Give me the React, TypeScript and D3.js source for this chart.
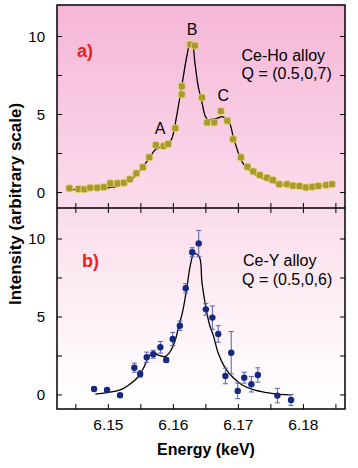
import React from "react";
import * as d3 from "d3";

// ---------- data ----------
// Panel a) Ce-Ho alloy, Q = (0.5,0,7)
const energyA = [
  6.144, 6.1454, 6.1463, 6.1472, 6.1483, 6.1493, 6.1503, 6.1514, 6.1524, 6.1533,
  6.1543, 6.1553, 6.1563, 6.1573, 6.1585, 6.1592, 6.1603, 6.1613, 6.1613, 6.1626,
  6.1633, 6.1644, 6.1652, 6.1663, 6.1673, 6.1683, 6.1692, 6.1704, 6.1714, 6.1723,
  6.1733, 6.1744, 6.1753, 6.1763, 6.1775, 6.1784, 6.1794, 6.1804, 6.1814, 6.1823,
  6.1835, 6.1844,
];
const intensityA = [
  0.27, 0.22, 0.21, 0.31, 0.31, 0.35, 0.59, 0.59, 0.63, 0.85,
  1.23, 1.62, 2.26, 3.04, 2.98, 3.11, 4.12, 6.29, 6.81, 9.49,
  9.42, 6.09, 4.49, 4.49, 5.22, 4.6, 3.41, 2.26, 1.65, 1.35,
  1.12, 0.95, 0.8, 0.53, 0.53, 0.44, 0.42, 0.33, 0.37, 0.42,
  0.48, 0.53,
];
const fitEnergyA = [
  6.144, 6.1462, 6.1492, 6.1513, 6.1528, 6.1541, 6.1551, 6.1562, 6.1572, 6.1582,
  6.1592, 6.1598, 6.1605, 6.1613, 6.1621, 6.1626, 6.1629, 6.1633, 6.1638, 6.1644,
  6.1649, 6.1653, 6.1661, 6.1669, 6.1674, 6.1685, 6.1692, 6.1700, 6.1707, 6.1715,
  6.1728, 6.1740, 6.1757, 6.1777, 6.1808, 6.1844,
];
const fitIntensityA = [
  0.19, 0.21, 0.29, 0.4, 0.62, 1.05, 1.55, 2.14, 2.74, 2.95,
  3.13, 3.5, 4.9, 6.85, 8.8, 9.62, 9.6, 8.37, 6.85, 5.77,
  4.9, 4.69, 4.7, 4.78, 4.86, 4.58, 3.6, 2.53, 1.88, 1.5,
  1.1, 0.86, 0.58, 0.47, 0.42, 0.47,
];

// Panel b) Ce-Y alloy, Q = (0.5,0,6)
const energyB = [
  6.1478, 6.1498, 6.1518, 6.154, 6.1549, 6.1559, 6.1569, 6.158, 6.1589, 6.1599,
  6.161, 6.1619, 6.1629, 6.1639, 6.165, 6.166, 6.1669, 6.168, 6.1689, 6.1699,
  6.1709, 6.172, 6.173, 6.176, 6.1781,
];
const intensityB = [
  0.38, 0.32, -0.02, 1.75, 1.35, 2.42, 2.61, 3.06, 2.24, 3.59,
  4.44, 6.84, 9.15, 9.72, 5.49, 4.96, 3.91, 1.22, 2.71, 0.26,
  1.11, 0.69, 1.28, -0.04, -0.32,
];
const errorB = [
  0.1, 0.1, 0.1, 0.29, 0.21, 0.33, 0.25, 0.37, 0.15, 0.42,
  0.3, 0.3, 0.29, 0.83, 0.37, 0.75, 0.53, 0.5, 1.36, 0.5,
  0.35, 0.5, 0.46, 0.46, 0.35,
];
const fitEnergyB = [
  6.148, 6.1498, 6.1518, 6.1533, 6.1546, 6.1555, 6.1562, 6.1569, 6.1577, 6.1587,
  6.1595, 6.1603, 6.1608, 6.1614, 6.1621, 6.1626, 6.1632, 6.164, 6.1644, 6.165,
  6.1655, 6.1662, 6.1669, 6.168, 6.1693, 6.1706, 6.1724, 6.1744, 6.1764, 6.178,
];
const fitIntensityB = [
  0.06, 0.15, 0.32, 0.69, 1.17, 1.81, 2.46, 2.71, 2.56, 2.46,
  2.78, 3.53, 4.38, 5.3, 6.94, 8.3, 9.08, 8.85, 7.2, 5.6,
  4.6, 3.74, 2.67, 1.71, 1.07, 0.64, 0.32, 0.15, 0.04, 0.0,
];

const xTickLabels = [6.15, 6.16, 6.17, 6.18];
const yTickLabels = [0, 5, 10];
const yMinorTicks = [0, 2.5, 5, 7.5, 10];

// ---------- layout ----------
const W = 358;
const H = 468;
const L = 57;
const R = 345;
const TOP = 5;
const MID = 208;
const BOT = 409;
const FONT = "'Liberation Sans', Arial, Helvetica, sans-serif";

export default function App() {
  const x = d3.scaleLinear().domain([6.1421, 6.1864]).range([L, R]);
  const yA = d3.scaleLinear().domain([-0.99, 12.02]).range([MID, TOP]);
  const yB = d3.scaleLinear().domain([-0.9, 11.99]).range([BOT, MID]);

  const xMinor = x.ticks(10);

  const lineA = d3
    .line<number>()
    .x((_, i) => x(fitEnergyA[i]))
    .y((d) => yA(d))
    .curve(d3.curveCatmullRom.alpha(0.5));
  const lineB = d3
    .line<number>()
    .x((_, i) => x(fitEnergyB[i]))
    .y((d) => yB(d))
    .curve(d3.curveCatmullRom.alpha(0.5));

  const tickLen = 5;

  return (
    <svg
      width={W}
      height={H}
      style={{ position: "absolute", left: 0, top: 0, background: "#fff" }}
      fontFamily={FONT}
    >
      <defs>
        <linearGradient id="gA" x1="0" y1="0" x2="0" y2="1">
          <stop offset="0" stopColor="#f6b6d7" />
          <stop offset="1" stopColor="#fbdcec" />
        </linearGradient>
        <linearGradient id="gB" x1="0" y1="0" x2="0" y2="1">
          <stop offset="0" stopColor="#fadbea" />
          <stop offset="0.55" stopColor="#fdf2f7" />
          <stop offset="1" stopColor="#ffffff" />
        </linearGradient>
      </defs>
      <rect x={L} y={TOP} width={R - L} height={MID - TOP} fill="url(#gA)" />
      <rect x={L} y={MID} width={R - L} height={BOT - MID} fill="url(#gB)" />

      {/* x ticks: bottom of a, top of b, bottom of b */}
      {xMinor.map((t, i) => (
        <g key={"xt" + i} stroke="#000" strokeWidth={1}>
          <line x1={x(t)} x2={x(t)} y1={MID} y2={MID - tickLen} />
          <line x1={x(t)} x2={x(t)} y1={MID} y2={MID + tickLen} />
          <line x1={x(t)} x2={x(t)} y1={BOT} y2={BOT - tickLen} />
        </g>
      ))}
      {/* y ticks */}
      {yMinorTicks.map((t, i) => (
        <g key={"yt" + i} stroke="#000" strokeWidth={1}>
          <line x1={L} x2={L + tickLen} y1={yA(t)} y2={yA(t)} />
          <line x1={R} x2={R - tickLen} y1={yA(t)} y2={yA(t)} />
          <line x1={L} x2={L + tickLen} y1={yB(t)} y2={yB(t)} />
          <line x1={R} x2={R - tickLen} y1={yB(t)} y2={yB(t)} />
        </g>
      ))}

      {/* fit lines */}
      <path d={lineA(fitIntensityA) || ""} fill="none" stroke="#000" strokeWidth={1.3} />
      <path d={lineB(fitIntensityB) || ""} fill="none" stroke="#000" strokeWidth={1.3} />

      {/* panel a points */}
      {intensityA.map((v, i) => (
        <rect
          key={"pa" + i}
          x={x(energyA[i]) - 3.5}
          y={yA(v) - 3.5}
          width={7}
          height={7}
          rx={2}
          fill="#a89a2c"
          stroke="#e6dc78"
          strokeWidth={0.8}
        />
      ))}

      {/* panel b points with error bars */}
      {intensityB.map((v, i) => {
        const cx = x(energyB[i]);
        const y1 = yB(v + errorB[i]);
        const y2 = yB(v - errorB[i]);
        return (
          <g key={"pb" + i}>
            <g stroke="#5a5ea8" strokeWidth={1}>
              <line x1={cx} x2={cx} y1={y1} y2={y2} />
              <line x1={cx - 2.5} x2={cx + 2.5} y1={y1} y2={y1} />
              <line x1={cx - 2.5} x2={cx + 2.5} y1={y2} y2={y2} />
            </g>
            <circle cx={cx} cy={yB(v)} r={3.2} fill="#142a80" />
          </g>
        );
      })}

      {/* frame */}
      <rect x={L} y={TOP} width={R - L} height={BOT - TOP} fill="none" stroke="#000" strokeWidth={1.5} />
      <line x1={L} x2={R} y1={MID} y2={MID} stroke="#000" strokeWidth={1.5} />

      {/* tick labels */}
      {yTickLabels.map((t) => (
        <g key={"yl" + t} fontSize={15} textAnchor="end" fill="#000">
          <text x={45} y={yA(t)} dy="0.36em">{t}</text>
          <text x={45} y={yB(t)} dy="0.36em">{t}</text>
        </g>
      ))}
      {xTickLabels.map((t) => (
        <text key={"xl" + t} x={x(t)} y={430} fontSize={15.5} textAnchor="middle">
          {t.toFixed(2)}
        </text>
      ))}

      {/* axis titles */}
      <text x={206} y={455} fontSize={16} fontWeight="bold" textAnchor="middle">
        Energy (keV)
      </text>
      <text
        transform="translate(20.5,204) rotate(-90)"
        fontSize={17}
        fontWeight="bold"
        textAnchor="middle"
      >
        Intensity (arbitrary scale)
      </text>

      {/* annotations */}
      <text x={77} y={57} fontSize={18} fontWeight="bold" fill="#e8221e">a)</text>
      <text x={82} y={267} fontSize={18} fontWeight="bold" fill="#e8221e">b)</text>
      <text x={241.5} y={61} fontSize={16}>Ce-Ho alloy</text>
      <text x={241.5} y={79} fontSize={16}>Q = (0.5,0,7)</text>
      <text x={243} y={266} fontSize={16}>Ce-Y alloy</text>
      <text x={242} y={285} fontSize={16}>Q = (0.5,0,6)</text>
      <text x={160} y={134} fontSize={16} textAnchor="middle">A</text>
      <text x={192} y={35} fontSize={16} textAnchor="middle">B</text>
      <text x={223.3} y={100.7} fontSize={16} textAnchor="middle">C</text>
    </svg>
  );
}
